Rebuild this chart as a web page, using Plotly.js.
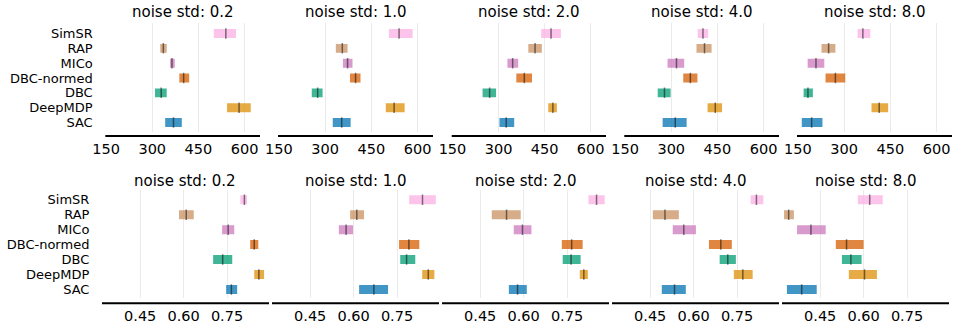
<!DOCTYPE html>
<html>
<head>
<meta charset="utf-8">
<script src="https://cdn.plot.ly/plotly-3.0.1.min.js"></script>
<style>html,body{margin:0;padding:0;background:#fff;}#chart{width:953px;height:324px;}</style>
</head>
<body>
<div id="chart"></div>
<script>
const methods = ['SimSR','RAP','MICo','DBC-normed','DBC','DeepMDP','SAC'];
const methodColors = ['#fbafe4','#ca9161','#cc78bc','#d55e00','#029e73','#de8f05','#0173b2'];
const noiseLevels = ['0.2','1.0','2.0','4.0','8.0'];

// top row: return (per noise level, per method)
const retLower = [
  [500,326,358,388,309,543,342],
  [507,335,358,381,257,497,325],
  [439,397,329,358,248,462,303],
  [386,382,288,339,256,418,272],
  [344,227,182,240,169,389,163]
];
const retMedian = [
  [539,336,364,402,329,582,369],
  [540,356,373,399,276,524,354],
  [471,419,346,384,271,477,325],
  [403,408,317,362,278,443,313],
  [361,250,209,272,183,414,195]
];
const retUpper = [
  [572,347,373,420,347,620,396],
  [584,373,389,415,292,558,383],
  [503,441,364,409,292,490,351],
  [420,431,342,385,298,465,350],
  [385,272,236,304,199,443,230]
];
const retTicks = [150,300,450,600];

// bottom row: normalized score
const scoreLower = [
  [0.796,0.584,0.733,0.830,0.702,0.844,0.747],
  [0.792,0.588,0.549,0.757,0.761,0.837,0.619],
  [0.824,0.490,0.566,0.732,0.735,0.794,0.549],
  [0.797,0.459,0.528,0.653,0.690,0.739,0.490],
  [0.580,0.325,0.370,0.504,0.525,0.549,0.335]
];
const scoreMedian = [
  [0.810,0.609,0.754,0.844,0.735,0.860,0.765],
  [0.838,0.611,0.574,0.791,0.783,0.858,0.670],
  [0.852,0.541,0.596,0.766,0.764,0.808,0.579],
  [0.817,0.501,0.566,0.694,0.718,0.770,0.534],
  [0.621,0.341,0.418,0.541,0.556,0.603,0.386]
];
const scoreUpper = [
  [0.819,0.635,0.775,0.858,0.768,0.878,0.785],
  [0.884,0.636,0.598,0.827,0.813,0.879,0.719],
  [0.880,0.590,0.627,0.804,0.797,0.822,0.611],
  [0.841,0.549,0.608,0.732,0.746,0.804,0.573],
  [0.666,0.359,0.469,0.600,0.593,0.646,0.438]
];
const scoreTicks = [0.45,0.60,0.75];

const W = 953, H = 324;
const FONT = 'DejaVu Sans';
function fillColor(hex){
  const r=parseInt(hex.slice(1,3),16),g=parseInt(hex.slice(3,5),16),b=parseInt(hex.slice(5,7),16);
  return 'rgba('+r+','+g+','+b+',0.75)';
}

const rows = [
  {lo:retLower, med:retMedian, hi:retUpper, ticks:retTicks, tickText:retTicks.map(String), range:[147.5,650],
   xpx:[[105.3,260],[278,433],[451.7,606],[624.3,779],[797,952]], top:23.3, bottom:131.7, line:136, title:12.5, yrange:[6.62,-0.69], ticklen:4},
  {lo:scoreLower, med:scoreMedian, hi:scoreUpper, ticks:scoreTicks, tickText:scoreTicks.map(v=>v.toFixed(2)), range:[0.318,0.895],
   xpx:[[102,269],[272,439],[442,609],[612,779],[782,949]], top:190, bottom:298.3, line:303.3, title:181, yrange:[6.59,-0.65], ticklen:4.5}
];

const data = [];
const layout = {
  width: W, height: H,
  margin:{l:0,r:0,t:0,b:0},
  paper_bgcolor:'#fff', plot_bgcolor:'#fff',
  showlegend:false,
  font:{family:FONT, color:'#000'},
  shapes:[], annotations:[]
};

let k = 0;
rows.forEach((row, ri) => {
  for (let p = 0; p < 5; p++) {
    k++;
    const xs = k === 1 ? '' : String(k);
    const xa = 'x'+xs, ya = 'y'+xs;
    const lo = row.lo[p], hi = row.hi[p], med = row.med[p];
    data.push({
      type:'bar', orientation:'h', xaxis:xa, yaxis:ya,
      y: methods, base: lo, x: hi.map((v,i)=>v-lo[i]),
      width: 0.6,
      marker:{color: methodColors.map(fillColor), line:{width:0}},
      hoverinfo:'skip'
    });
    data.push({
      type:'scatter', mode:'markers', xaxis:xa, yaxis:ya,
      y: methods, x: med,
      marker:{symbol:'line-ns', size:7.5, color:'rgba(0,0,0,0.5)', line:{width:1.5, color:'rgba(0,0,0,0.5)'}},
      hoverinfo:'skip'
    });
    const dx = [row.xpx[p][0]/W, row.xpx[p][1]/W];
    const dy = [1 - row.bottom/H, 1 - row.top/H];
    layout['xaxis'+xs] = {
      domain: dx, anchor: ya, range: row.range,
      tickmode:'array', tickvals: row.ticks, ticktext: row.tickText,
      showgrid:true, gridcolor:'#ebebeb', gridwidth:1,
      zeroline:false, showline:false,
      ticks:'outside', ticklen: row.ticklen, tickcolor:'rgba(0,0,0,0)',
      tickfont:{family:FONT, size:14.5, color:'#000'},
      fixedrange:true
    };
    layout['yaxis'+xs] = {
      domain: dy, anchor: xa, type:'category', categoryarray: methods,
      tickmode:'array', tickvals: methods, ticktext: methods,
      range: row.yrange,
      showgrid:false, zeroline:false, showline:false,
      showticklabels: p === 0,
      ticks: p === 0 ? 'outside' : '', ticklen:9, tickcolor:'rgba(0,0,0,0)',
      tickfont:{family:FONT, size:13, color:'#000'},
      fixedrange:true
    };
    layout.shapes.push({
      type:'line', xref:'paper', yref:'paper',
      x0: dx[0], x1: dx[1], y0: 1 - row.line/H, y1: 1 - row.line/H,
      line:{color:'#000', width:2}
    });
    layout.annotations.push({
      xref:'paper', yref:'paper', x:(dx[0]+dx[1])/2, y: 1 - row.title/H,
      xanchor:'center', yanchor:'middle', showarrow:false,
      text:'noise std: '+noiseLevels[p],
      font:{family:FONT, size:15, color:'#000'}
    });
  }
});

Plotly.newPlot('chart', data, layout, {staticPlot:true, displayModeBar:false});
</script>
</body>
</html>
